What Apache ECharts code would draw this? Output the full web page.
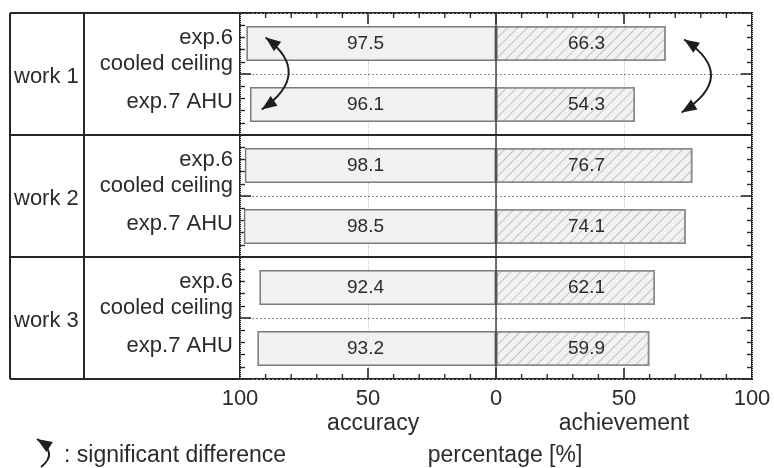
<!DOCTYPE html>
<html><head><meta charset="utf-8">
<script src="https://cdn.jsdelivr.net/npm/echarts@6/dist/echarts.min.js"></script>
<style>html,body{margin:0;padding:0;background:#fff}#c{width:774px;height:468px}</style>
</head><body><div id="c"></div>
<script>
// ---- data ----
const groups = ['work 1', 'work 2', 'work 3'];
const categories = ['exp.6\ncooled ceiling', 'exp.7 AHU', 'exp.6\ncooled ceiling', 'exp.7 AHU', 'exp.6\ncooled ceiling', 'exp.7 AHU'];
const accuracy = [97.5, 96.1, 98.1, 98.5, 92.4, 93.2];
const achievement = [66.3, 54.3, 76.7, 74.1, 62.1, 59.9];
const xTickValues = [-100, -50, 0, 50, 100]; // shown as absolute values
const sideNames = ['accuracy', 'achievement'];
const axisTitle = 'percentage [%]';
const legendText = ': significant difference';
const sigGroups = [0]; // groups with significant difference arrows

// ---- chart ----
const FONT = '"Liberation Sans", Arial, Helvetica, sans-serif';
const TXT = '#2b2b2b';
const LINE = '#262626';
const chart = echarts.init(document.getElementById('c'));

const xAxisBase = (pos, extra) => Object.assign({
  type: 'value', min: xTickValues[0], max: xTickValues[xTickValues.length - 1], interval: 50, position: pos,
  axisLine: { show: false }, axisTick: { show: false }
}, extra);
// half-row tick scale for the left/right frame edges (range chosen so it never contains zero)
const yTicks = (pos, split) => ({
  type: 'value', min: 10, max: 16, interval: 1, position: pos,
  axisLine: { show: false, onZero: false }, axisLabel: { show: false },
  axisTick: { show: true, inside: true, length: 11, lineStyle: { color: '#2a2a2a', width: 1.6 } },
  minorTick: { show: true, splitNumber: 5, length: 5, lineStyle: { color: '#2a2a2a', width: 1.4 } },
  splitLine: split ? { show: true, lineStyle: { color: '#8f8f8f', type: [2, 2], width: 1 } } : { show: false }
});

const option = {
  animation: false,
  backgroundColor: '#fff',
  textStyle: { fontFamily: FONT },
  grid: { left: 240, right: 22, top: 13, bottom: 89, show: true, borderColor: LINE, borderWidth: 2, backgroundColor: 'transparent' },
  xAxis: [
    xAxisBase('bottom', {
      splitLine: { show: true, lineStyle: { color: '#c4c4c4', type: 'dotted', width: 1 } },
      axisLabel: { formatter: v => String(Math.abs(v)), fontSize: 22, color: TXT, margin: 9, fontFamily: FONT }
    }),
    xAxisBase('top', { splitLine: { show: false }, axisLabel: { show: false } })
  ],
  yAxis: [
    {
      type: 'category', inverse: true, data: categories,
      axisLine: { show: false, onZero: false }, axisTick: { show: false }, splitLine: { show: false },
      axisLabel: {
        margin: 7, align: 'right',
        formatter: (v, i) => {
          const lines = v.split('\n').map(s => '{t|' + s + '}');
          return i % 2 === 0 ? '{s| }\n' + lines.join('\n') : lines.join('\n') + '\n{s2| }';
        },
        rich: {
          t: { fontSize: 22, lineHeight: 26, color: TXT, fontFamily: FONT, align: 'right' },
          s: { fontSize: 4, lineHeight: 14, height: 14 },
          s2: { fontSize: 4, lineHeight: 6, height: 6 }
        }
      }
    },
    yTicks('left', true),
    yTicks('right', false)
  ],
  series: [
    {
      type: 'bar', name: sideNames[0], data: accuracy.map(v => -v), stack: 's', barWidth: 35,
      itemStyle: { color: '#f1f1f1', borderColor: '#7a7a7a', borderWidth: 1.5 },
      label: { show: true, position: 'insideRight', distance: 112, formatter: p => Math.abs(p.value).toFixed(1), fontSize: 19, color: TXT, fontFamily: FONT }
    },
    {
      type: 'bar', name: sideNames[1], data: achievement, stack: 's', barWidth: 35,
      itemStyle: {
        color: '#f2f2f2', borderColor: '#8c8c8c', borderWidth: 1.5,
        decal: { symbol: 'rect', symbolSize: 1, color: 'rgba(0,0,0,0.2)', dashArrayX: [1, 0], dashArrayY: [1, 6], rotation: -Math.PI / 4 }
      },
      label: { show: true, position: 'insideLeft', distance: 72, formatter: p => p.value.toFixed(1), fontSize: 19, color: TXT, fontFamily: FONT },
      markLine: { silent: true, symbol: 'none', label: { show: false }, lineStyle: { color: '#444', width: 1.5, type: 'solid' }, data: [{ xAxis: 0 }] }
    }
  ]
};
chart.setOption(option);

// ---- table decoration & annotations computed from the axes ----
function P(x, cat) { return chart.convertToPixel({ xAxisIndex: 0, yAxisIndex: 0 }, [x, cat]); }
const yc = i => P(0, i)[1];
const band = yc(1) - yc(0);
const yTop = yc(0) - band / 2, yBot = yc(categories.length - 1) + band / 2;
const xL = P(-100, 0)[0], xR = P(100, 0)[0], x0 = P(0, 0)[0];
const tableLeft = 10, colSplit = 84;
const els = [];
const ln = (x1, y1, x2, y2, w, col) => els.push({ type: 'line', silent: true, z: 10, shape: { x1, y1, x2, y2 }, style: { stroke: col || LINE, lineWidth: w || 2 } });
ln(tableLeft, yTop, xL, yTop);
ln(tableLeft, yBot, xL, yBot);
ln(tableLeft, yTop, tableLeft, yBot);
ln(colSplit, yTop, colSplit, yBot);
// inward ticks on the top and bottom frame edges, every 10 units (longer at multiples of 50)
for (let v = xTickValues[0] + 10; v < xTickValues[xTickValues.length - 1]; v += 10) {
  const x = P(v, 0)[0];
  const len = v % 50 === 0 ? 11 : 5;
  ln(x, yTop, x, yTop + len, v % 50 === 0 ? 1.6 : 1.4, '#2a2a2a');
  ln(x, yBot, x, yBot - len, v % 50 === 0 ? 1.6 : 1.4, '#2a2a2a');
}
groups.forEach((g, gi) => {
  const gy0 = yc(gi * 2) - band / 2;
  if (gi > 0) ln(tableLeft, gy0, xR, gy0);
  els.push({ type: 'text', silent: true, z: 10, style: { text: g, x: tableLeft + 4, y: gy0 + band + 3, font: '22px ' + FONT, fill: TXT, align: 'left', verticalAlign: 'middle' } });
});
function arrow(p0, p2, bulgeX, heads) {
  const c = [2 * bulgeX - (p0[0] + p2[0]) / 2, (p0[1] + p2[1]) / 2];
  els.push({ type: 'bezierCurve', silent: true, z: 11, shape: { x1: p0[0], y1: p0[1], x2: p2[0], y2: p2[1], cpx1: c[0], cpy1: c[1] }, style: { stroke: '#1e1e1e', lineWidth: 2, fill: null } });
  heads.forEach(p => {
    let dx = p[0] - c[0], dy = p[1] - c[1];
    const l = Math.hypot(dx, dy); dx /= l; dy /= l;
    const L = 15, W = 6;
    const bx = p[0] - dx * L, by = p[1] - dy * L;
    els.push({ type: 'polygon', silent: true, z: 11, shape: { points: [[p[0], p[1]], [bx - dy * W, by + dx * W], [bx + dy * W, by - dx * W]] }, style: { fill: '#1e1e1e' } });
  });
}
sigGroups.forEach(gi => {
  const a = yc(gi * 2), b = yc(gi * 2 + 1);
  const l0 = P(-90, 0)[0], l1 = P(-91.5, 0)[0], lb = P(-81, 0)[0];
  arrow([l0, a - 6], [l1, b + 5], lb, [[l0, a - 6], [l1, b + 5]]);
  const r0 = P(73.5, 0)[0], r1 = P(72.5, 0)[0], rb = P(84, 0)[0];
  arrow([r0, a - 4], [r1, b + 8], rb, [[r0, a - 4], [r1, b + 8]]);
});
// legend for arrow
arrow([37, 439], [41, 467], 49, [[37, 439]]);
const T23 = '23px ' + FONT;
els.push({ type: 'text', silent: true, style: { text: legendText, x: 64, y: 456, font: T23, fill: TXT, align: 'left', verticalAlign: 'middle' } });
// side names and axis title
els.push({ type: 'text', silent: true, style: { text: sideNames[0], x: P(-48, 0)[0], y: yBot + 45, font: T23, fill: TXT, align: 'center', verticalAlign: 'middle' } });
els.push({ type: 'text', silent: true, style: { text: sideNames[1], x: P(50, 0)[0], y: yBot + 45, font: T23, fill: TXT, align: 'center', verticalAlign: 'middle' } });
els.push({ type: 'text', silent: true, style: { text: axisTitle, x: x0 + 9, y: yBot + 77, font: T23, fill: TXT, align: 'center', verticalAlign: 'middle' } });
chart.setOption({ graphic: { elements: els } });
</script>
</body></html>
